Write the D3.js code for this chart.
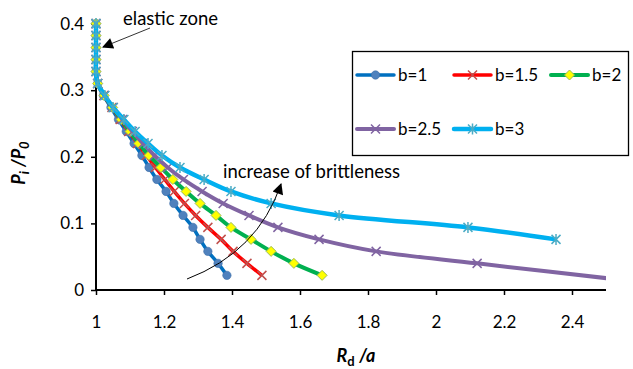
<!DOCTYPE html>
<html>
<head>
<meta charset="utf-8">
<script src="https://cdn.jsdelivr.net/npm/d3@7"></script>
<style>
  body { margin: 0; background: #fff; }
  text { font-family: Lato, "Open Sans", sans-serif; fill: #000; }
</style>
</head>
<body>
<div id="chart"></div>
<script>
// P_i/P_0 steps (shared by every series, elastic zone first)
const yB1 = [0.4, 0.382, 0.364, 0.346, 0.328, 0.31, 0.292, 0.274, 0.256, 0.238, 0.22, 0.202, 0.184, 0.166, 0.148, 0.13, 0.112, 0.094, 0.076, 0.058, 0.04, 0.022];
const xB1 = [1, 1, 1, 1, 1, 1.005, 1.022, 1.044, 1.066, 1.089, 1.112, 1.135, 1.156, 1.179, 1.206, 1.229, 1.256, 1.285, 1.306, 1.329, 1.359, 1.385];

const yB15 = [0.4, 0.382, 0.364, 0.346, 0.328, 0.31, 0.292, 0.274, 0.256, 0.238, 0.22, 0.202, 0.184, 0.166, 0.148, 0.13, 0.112, 0.094, 0.076, 0.058, 0.04, 0.022];
const xB15 = [1, 1, 1, 1, 1, 1.005, 1.023, 1.047, 1.071, 1.096, 1.122, 1.148, 1.175, 1.202, 1.23, 1.26, 1.293, 1.329, 1.368, 1.403, 1.444, 1.488];

const yB2 = [0.4, 0.382, 0.364, 0.346, 0.328, 0.31, 0.292, 0.274, 0.256, 0.238, 0.22, 0.202, 0.184, 0.166, 0.148, 0.13, 0.112, 0.094, 0.076, 0.058, 0.04, 0.022];
const xB2 = [1, 1, 1, 1, 1, 1.005, 1.024, 1.049, 1.074, 1.1, 1.126, 1.156, 1.191, 1.226, 1.265, 1.306, 1.353, 1.397, 1.456, 1.515, 1.582, 1.665];

const yB25 = [0.4, 0.382, 0.364, 0.346, 0.328, 0.31, 0.292, 0.274, 0.256, 0.238, 0.22, 0.202, 0.184, 0.166, 0.148, 0.13, 0.112, 0.094, 0.076, 0.058, 0.04, 0.012];
const xB25 = [1, 1, 1, 1, 1, 1.005, 1.025, 1.051, 1.078, 1.107, 1.138, 1.172, 1.211, 1.257, 1.312, 1.374, 1.45, 1.535, 1.656, 1.824, 2.121, 2.6];

const yB3 = [0.4, 0.382, 0.364, 0.346, 0.328, 0.31, 0.292, 0.274, 0.256, 0.238, 0.22, 0.202, 0.184, 0.166, 0.148, 0.13, 0.112, 0.094, 0.076];
const xB3 = [1, 1, 1, 1, 1, 1.005, 1.026, 1.05, 1.082, 1.115, 1.153, 1.194, 1.247, 1.318, 1.397, 1.515, 1.715, 2.094, 2.353];

const seriesNames = ['b=1', 'b=1.5', 'b=2', 'b=2.5', 'b=3'];
const xTicks = [1, 1.2, 1.4, 1.6, 1.8, 2, 2.2, 2.4];
const yTicks = [0, 0.1, 0.2, 0.3, 0.4];

const width = 633, height = 369;
const x = d3.scaleLinear().domain([1, 2.5]).range([96, 606]);
const y = d3.scaleLinear().domain([0, 0.4]).range([290, 23.6]);

const series = [
  { name: seriesNames[0], xs: xB1, ys: yB1, line: '#0070C0', mark: 'circle', mColor: '#4F81BD', lw: 3.5 },
  { name: seriesNames[1], xs: xB15, ys: yB15, line: '#FF0000', mark: 'x', mColor: '#C0504D', lw: 3.5 },
  { name: seriesNames[2], xs: xB2, ys: yB2, line: '#00B050', mark: 'diamond', mColor: '#FFFF00', lw: 4 },
  { name: seriesNames[3], xs: xB25, ys: yB25, line: '#8064A2', mark: 'x', mColor: '#8064A2', lw: 4 },
  { name: seriesNames[4], xs: xB3, ys: yB3, line: '#00B0F0', mark: 'star', mColor: '#4BACC6', lw: 4.5 }
];

const svg = d3.select('#chart').append('svg')
  .attr('width', width)
  .attr('height', height);

const defs = svg.append('defs');
defs.append('clipPath').attr('id', 'plotClip')
  .append('rect').attr('x', 90).attr('y', 10).attr('width', 606 - 90).attr('height', 290);
defs.append('marker')
  .attr('id', 'arrowHead')
  .attr('viewBox', '0 0 10 10')
  .attr('refX', 9).attr('refY', 5)
  .attr('markerWidth', 13).attr('markerHeight', 11)
  .attr('markerUnits', 'userSpaceOnUse')
  .attr('orient', 'auto')
  .append('path').attr('d', 'M0,0 L10,5 L0,10 Z').attr('fill', '#000');

// Axes
const xAxis = svg.append('g')
  .attr('transform', `translate(0,${y(0)})`)
  .call(d3.axisBottom(x).tickValues(xTicks).tickSize(5).tickFormat(d3.format('')));
xAxis.select('.domain').attr('d', `M${x(1)},0H${x(2.5)}`);
const yAxis = svg.append('g')
  .attr('transform', `translate(${x(1)},0)`)
  .call(d3.axisLeft(y).tickValues(yTicks).tickSize(5).tickFormat(d3.format('')));
yAxis.select('.domain').attr('d', `M0,${y(0.4)}V${y(0)}`);
svg.selectAll('.domain').attr('stroke', '#000').attr('stroke-width', 2);
svg.selectAll('.tick line').attr('stroke', '#000').attr('stroke-width', 1.5);
svg.selectAll('.tick text').attr('font-size', 17).attr('font-family', 'Lato, sans-serif').attr('fill', '#000');
xAxis.selectAll('.tick text').attr('dy', null).attr('y', 38);
yAxis.selectAll('.tick text').attr('x', -12);

// Marker shapes
function drawMarker(g, type, cx, cy, color) {
  if (type === 'circle') {
    g.append('circle').attr('cx', cx).attr('cy', cy).attr('r', 4.2)
      .attr('fill', color).attr('stroke', '#3F6FA8').attr('stroke-width', 0.6);
  } else if (type === 'diamond') {
    const s = 5;
    g.append('path')
      .attr('d', `M${cx},${cy - s}L${cx + s},${cy}L${cx},${cy + s}L${cx - s},${cy}Z`)
      .attr('fill', color).attr('stroke', '#9BBB59').attr('stroke-width', 1);
  } else {
    const s = 4.5;
    let d = `M${cx - s},${cy - s}L${cx + s},${cy + s}M${cx - s},${cy + s}L${cx + s},${cy - s}`;
    if (type === 'star') d += `M${cx},${cy - s - 1}L${cx},${cy + s + 1}`;
    g.append('path').attr('d', d).attr('fill', 'none')
      .attr('stroke', color).attr('stroke-width', 1.5);
  }
}

const line = d3.line()
  .x(d => x(d[0]))
  .y(d => y(d[1]))
  .curve(d3.curveCatmullRom.alpha(0.5));

const plot = svg.append('g').attr('clip-path', 'url(#plotClip)');
series.forEach(s => {
  const pts = s.xs.map((v, i) => [v, s.ys[i]]);
  const g = plot.append('g');
  g.append('path')
    .datum(pts)
    .attr('fill', 'none')
    .attr('stroke', s.line)
    .attr('stroke-width', s.lw)
    .attr('stroke-linejoin', 'round')
    .attr('d', line);
  pts.forEach(p => drawMarker(g, s.mark, x(p[0]), y(p[1]), s.mColor));
});

// Legend
const legend = svg.append('g');
legend.append('rect')
  .attr('x', 352.5).attr('y', 51.5).attr('width', 276).attr('height', 104)
  .attr('fill', '#fff').attr('stroke', '#000').attr('stroke-width', 1.3);
const legendPos = [[357, 75], [454, 75], [551, 75], [357, 129], [454, 129]];
series.forEach((s, i) => {
  const [lx, ly] = legendPos[i];
  const g = legend.append('g');
  g.append('line')
    .attr('x1', lx).attr('x2', lx + 37).attr('y1', ly).attr('y2', ly)
    .attr('stroke', s.line).attr('stroke-width', s.lw).attr('stroke-linecap', 'round');
  drawMarker(g, s.mark, lx + 18.5, ly, s.mColor);
  g.append('text')
    .attr('x', lx + 41).attr('y', ly + 6)
    .attr('font-size', 17)
    .text(s.name);
});

// Axis titles
const xTitle = svg.append('text')
  .attr('x', 356).attr('y', 362)
  .attr('text-anchor', 'middle')
  .attr('font-size', 18).attr('font-weight', 'bold');
xTitle.append('tspan').attr('font-style', 'italic').text('R');
xTitle.append('tspan').attr('font-size', 13).attr('dy', 4).text('d');
xTitle.append('tspan').attr('dy', -4).text(' ');
xTitle.append('tspan').attr('font-style', 'italic').text('/a');

const yTitle = svg.append('text')
  .attr('transform', 'translate(25,163) rotate(-90)')
  .attr('text-anchor', 'middle')
  .attr('font-size', 18).attr('font-weight', 'bold').attr('font-style', 'italic');
yTitle.append('tspan').text('P');
yTitle.append('tspan').attr('font-size', 13).attr('dy', 4).text('i');
yTitle.append('tspan').attr('dy', -4).text(' /P');
yTitle.append('tspan').attr('font-size', 13).attr('dy', 4).text('0');

// Annotations
svg.append('text').attr('x', 123).attr('y', 25).attr('font-size', 18.5).text('elastic zone');
svg.append('line')
  .attr('x1', 150).attr('y1', 28).attr('x2', 103).attr('y2', 47)
  .attr('stroke', '#333').attr('stroke-width', 1)
  .attr('marker-end', 'url(#arrowHead)');

svg.append('text').attr('x', 223).attr('y', 178).attr('font-size', 18.5).text('increase of brittleness');
svg.append('path')
  .attr('d', 'M187,279 Q258,252 281,184')
  .attr('fill', 'none').attr('stroke', '#000').attr('stroke-width', 1)
  .attr('marker-end', 'url(#arrowHead)');
</script>
</body>
</html>
